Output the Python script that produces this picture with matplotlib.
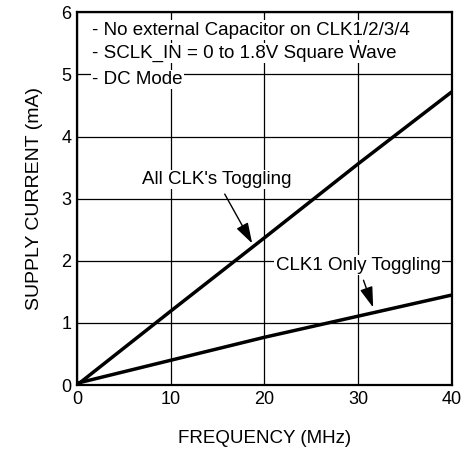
import numpy as np
import matplotlib.pyplot as plt

plt.rcParams['font.family'] = ['Liberation Sans', 'DejaVu Sans']

# values
freq = [0, 10, 20, 30, 40]
all_clk = [0, 1.19, 2.37, 3.56, 4.72]
clk1_only = [0.03, 0.40, 0.77, 1.11, 1.45]
notes = ['- No external Capacitor on CLK1/2/3/4',
         '- SCLK_IN = 0 to 1.8V Square Wave',
         '- DC Mode']
note_y = [5.71, 5.34, 4.92]

fig = plt.figure(figsize=(4.63, 4.51), dpi=100)
ax = fig.add_axes([0.166, 0.146, 0.81, 0.827])

ax.plot(freq, all_clk, color='black', lw=2.5, solid_capstyle='butt', zorder=3)
ax.plot(freq, clk1_only, color='black', lw=2.5, solid_capstyle='butt', zorder=3)

ax.set_xlim(0, 40)
ax.set_ylim(0, 6)
ax.set_xticks([0, 10, 20, 30, 40])
ax.set_yticks([0, 1, 2, 3, 4, 5, 6])
ax.grid(True, color='black', lw=0.9)
ax.set_axisbelow(True)
ax.tick_params(length=0, labelsize=13, pad=4)
for s in ax.spines.values():
    s.set_linewidth(1.6)

ax.set_xlabel('FREQUENCY (MHz)', fontsize=13.5, labelpad=16)
ax.set_ylabel('SUPPLY CURRENT (mA)', fontsize=14, labelpad=13)

# notes, each line with its own white background
for t, y in zip(notes, note_y):
    ax.text(1.6, y, t, fontsize=13.5, va='center', ha='left',
            bbox=dict(facecolor='white', edgecolor='none', pad=1.0), zorder=2)

arrow = dict(arrowstyle='-|>,head_length=0.7,head_width=0.22', color='black',
             lw=1.0, mutation_scale=18, shrinkA=4, shrinkB=0)
ax.annotate("All CLK's Toggling", xy=(18.7, 2.28), xytext=(14.9, 3.31),
            fontsize=13.5, ha='center', va='center',
            bbox=dict(facecolor='white', edgecolor='none', pad=1.0),
            arrowprops=arrow)
ax.annotate('CLK1 Only Toggling', xy=(31.6, 1.25), xytext=(30.0, 1.93),
            fontsize=13.5, ha='center', va='center',
            bbox=dict(facecolor='white', edgecolor='none', pad=1.0),
            arrowprops=arrow)

fig.savefig('out.png', dpi=100)
